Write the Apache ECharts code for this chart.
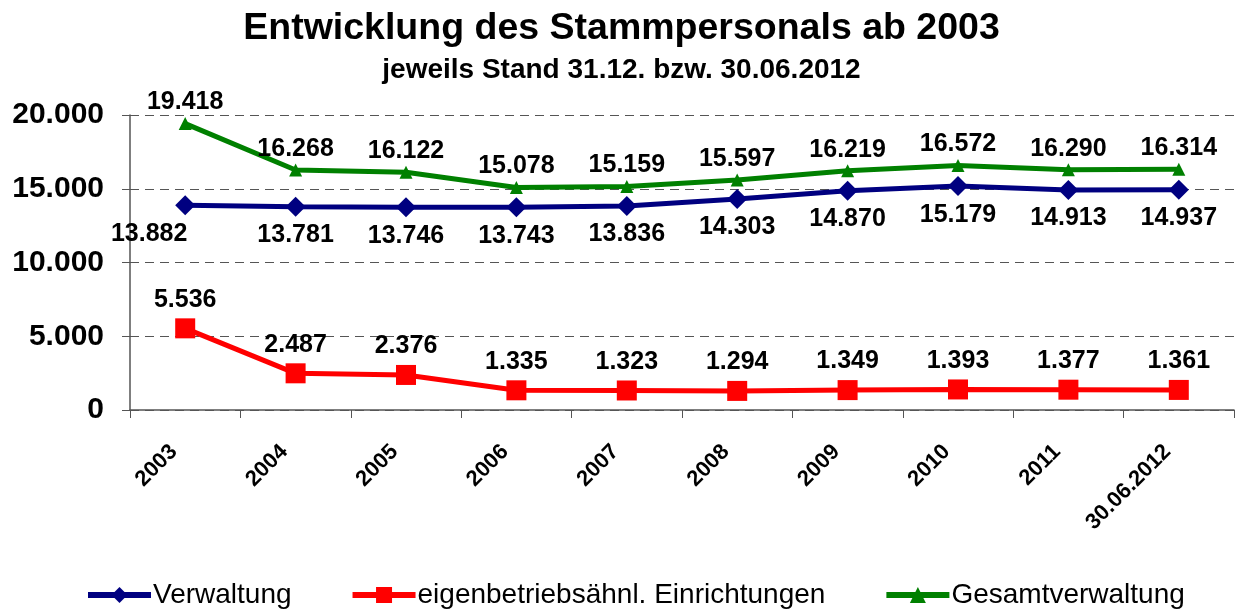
<!DOCTYPE html>
<html>
<head>
<meta charset="utf-8">
<title>Entwicklung des Stammpersonals ab 2003</title>
<script src="https://cdn.jsdelivr.net/npm/echarts@6/dist/echarts.min.js"></script>
<style>
  html, body { margin: 0; padding: 0; background: #fff; }
  #chart { width: 1243px; height: 609px; }
</style>
</head>
<body>
<div id="chart"></div>
<script>
// Kategorien (Stichtage)
const jahre = ['2003', '2004', '2005', '2006', '2007', '2008', '2009', '2010', '2011', '30.06.2012'];

// Werte je Reihe
const verwaltung = [13882, 13781, 13746, 13743, 13836, 14303, 14870, 15179, 14913, 14937];
const eigenbetriebe = [5536, 2487, 2376, 1335, 1323, 1294, 1349, 1393, 1377, 1361];
const gesamt = [19418, 16268, 16122, 15078, 15159, 15597, 16219, 16572, 16290, 16314];

const seriesNames = ['Verwaltung', 'eigenbetriebsähnl. Einrichtungen', 'Gesamtverwaltung'];

const FONT = '"Liberation Sans", Arial, sans-serif';

// Zahlen mit Punkt als Tausendertrenner
function fmt(v) {
  return String(v).replace(/\B(?=(\d{3})+(?!\d))/g, '.');
}

const chart = echarts.init(document.getElementById('chart'));

const labelStyle = {
  show: true,
  fontFamily: FONT,
  fontSize: 25,
  fontWeight: 'bold',
  color: '#000',
  formatter: p => fmt(p.value)
};

// erstes Label der Verwaltung sitzt im Original links neben dem Punkt
const verwaltungData = verwaltung.map((v, i) =>
  i === 0 ? { value: v, label: { offset: [-36, 0] } } : v
);

chart.setOption({
  animation: false,
  textStyle: { fontFamily: FONT },
  title: {
    text: 'Entwicklung des Stammpersonals ab 2003',
    subtext: 'jeweils Stand 31.12. bzw. 30.06.2012',
    left: 'center',
    top: 5,
    itemGap: 8,
    textStyle: { fontFamily: FONT, fontSize: 37.5, fontWeight: 'bold', color: '#000' },
    subtextStyle: { fontFamily: FONT, fontSize: 28, fontWeight: 'bold', color: '#000' }
  },
  legend: {
    top: 576,
    left: 80,
    itemWidth: 63,
    itemHeight: 20,
    itemGap: 58,
    lineStyle: { width: 6 },
    textStyle: { fontFamily: FONT, fontSize: 28, color: '#000', padding: [0, 0, 0, -3] },
    data: seriesNames
  },
  grid: {
    left: 130,
    right: 9,
    top: 115,
    bottom: 199
  },
  xAxis: {
    type: 'category',
    data: jahre,
    boundaryGap: true,
    axisLine: { lineStyle: { color: '#555', width: 1.5 } },
    axisTick: { show: true, length: 8, lineStyle: { color: '#555' } },
    axisLabel: {
      rotate: 45,
      margin: 27,
      padding: [0, 16, 0, 0],
      fontFamily: FONT,
      fontSize: 22,
      fontWeight: 'bold',
      color: '#000'
    }
  },
  yAxis: {
    type: 'value',
    min: 0,
    max: 20000,
    interval: 5000,
    axisLine: { show: true, lineStyle: { color: '#555', width: 1.5 } },
    axisTick: { show: true, length: 8, lineStyle: { color: '#555' } },
    axisLabel: {
      margin: 26,
      fontFamily: FONT,
      fontSize: 30,
      fontWeight: 'bold',
      color: '#000',
      formatter: v => fmt(v)
    },
    splitLine: {
      lineStyle: { color: '#555', type: [9, 6], width: 1 }
    }
  },
  series: [
    {
      name: seriesNames[0],
      type: 'line',
      data: verwaltungData,
      symbol: 'diamond',
      symbolSize: 20,
      color: '#000080',
      lineStyle: { width: 5, color: '#000080' },
      label: Object.assign({}, labelStyle, { position: 'bottom', distance: 6 }),
      z: 3
    },
    {
      name: seriesNames[1],
      type: 'line',
      data: eigenbetriebe,
      symbol: 'rect',
      symbolSize: 20,
      color: '#ff0000',
      lineStyle: { width: 5, color: '#ff0000' },
      label: Object.assign({}, labelStyle, { position: 'top', distance: 6 }),
      z: 2
    },
    {
      name: seriesNames[2],
      type: 'line',
      data: gesamt,
      symbol: 'triangle',
      symbolSize: 13,
      color: '#008000',
      lineStyle: { width: 5, color: '#008000' },
      label: Object.assign({}, labelStyle, { position: 'top', distance: 2 }),
      z: 4
    }
  ]
});
</script>
</body>
</html>
